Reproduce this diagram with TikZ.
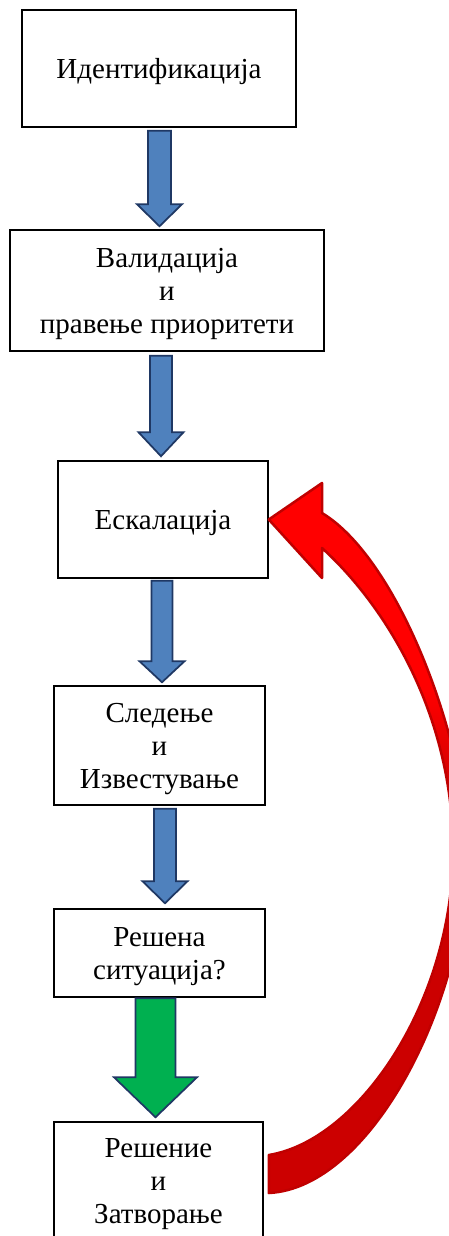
\documentclass[tikz,border=0pt]{standalone}
\usepackage{fontspec}
\setmainfont{Liberation Serif}
\usetikzlibrary{calc}
\definecolor{boxblue}{RGB}{79,129,189}
\definecolor{navy}{RGB}{31,56,100}
\definecolor{okgreen}{RGB}{0,176,80}
\definecolor{brightred}{RGB}{255,0,0}
\definecolor{darkred}{RGB}{204,0,0}
\definecolor{edgered}{RGB}{192,0,0}
% style, from, to, x centre, half shaft, half head, head length, top gap, bottom gap
\newcommand\blockarrow[9]{%
  \draw[#1] let \p1=(#2.south), \p2=(#3.north) in
    ({#4pt-#5pt},{\y1-#8pt}) -- ({#4pt+#5pt},{\y1-#8pt})
    -- ({#4pt+#5pt},{\y2+#9pt+#7pt}) -- ({#4pt+#6pt},{\y2+#9pt+#7pt})
    -- ({#4pt},{\y2+#9pt})
    -- ({#4pt-#6pt},{\y2+#9pt+#7pt}) -- ({#4pt-#5pt},{\y2+#9pt+#7pt}) -- cycle;}
\begin{document}
\begin{tikzpicture}[x=1pt,y=-1pt,
  stepbox/.style={draw=black, line width=1.5pt, fill=white, align=center,
    font=\fontsize{29}{33}\selectfont, inner sep=0pt, text depth=0pt},
  bluearrow/.style={fill=boxblue, draw=navy, line width=1.75pt, line join=miter},
  greenarrow/.style={fill=okgreen, draw=navy, line width=1.75pt, line join=miter},
  redshape/.style={insert path={
    ($(rtail)+(0,-31)$) .. controls (360,1140) and (453,1000) .. (453,850)
    .. controls (453,720) and (390,610) .. (322,548)
    -- (322,578) -- (rtip) -- (322,483) -- (322,513)
    .. controls (400,560) and (467,745) .. (467,850)
    .. controls (467,1000) and (372,1188) .. ($(rtail)+(0,7)$) -- cycle}},
]
\useasboundingbox (0,0) rectangle (449,1236);
\clip (0,0) rectangle (449,1236);

\node[stepbox, minimum width=274pt, minimum height=117pt] (b1) at (159,68.5) {Идентификација};
\node[stepbox, minimum width=314pt, minimum height=121pt] (b2) at (167,290.5) {Валидација\\и\\правење приоритети};
\node[stepbox, minimum width=210pt, minimum height=117pt] (b3) at (163,519.5) {Ескалација};
\node[stepbox, minimum width=211pt, minimum height=119pt] (b4) at (159.5,745.5) {Следење\\и\\Известување};
\node[stepbox, minimum width=211pt, minimum height=88pt] (b5) at (159.5,953) {Решена\\ситуација?};
\node[stepbox, minimum width=209pt, minimum height=118pt] (b6) at (158.5,1181) {Решение\\и\\Затворање};

\blockarrow{bluearrow}{b1}{b2}{159.5}{11.5}{22.5}{22}{3}{3}
\blockarrow{bluearrow}{b2}{b3}{161}{11}{22.5}{24}{4}{4}
\blockarrow{bluearrow}{b3}{b4}{162}{10.5}{22.5}{21}{2}{3}
\blockarrow{bluearrow}{b4}{b5}{165}{11}{22.5}{22}{3}{5}
\blockarrow{greenarrow}{b5}{b6}{155.5}{20}{41.5}{40}{0.5}{4}

\coordinate (rtip) at (b3.east);
\coordinate (rtail) at ($(b6.east)+(5,5)$);
\path[fill=darkred, redshape];
\begin{scope}
  \path[clip, redshape];
  \fill[brightred] (0,440) rectangle (449,690);
  \shade[top color=brightred, bottom color=darkred] (0,690) rectangle (449,800);
\end{scope}
\path[draw=edgered, line width=2.5pt, line join=round, redshape];
\end{tikzpicture}
\end{document}
